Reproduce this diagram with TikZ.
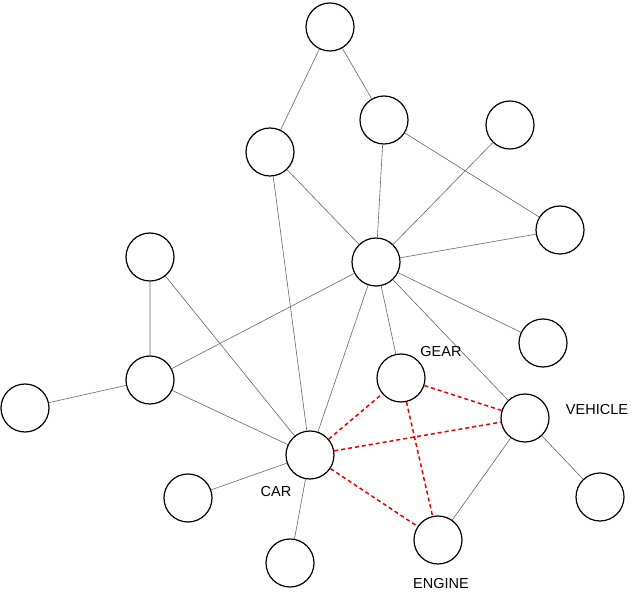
\documentclass[tikz,border=0pt]{standalone}
\usepackage{fontspec}
\setmainfont{Liberation Sans}
\begin{document}
\begin{tikzpicture}[x=1pt,y=-1pt,
  vtx/.style={circle,draw=black,line width=1.2pt,fill=white,minimum size=48pt,inner sep=0pt},
  edge/.style={draw=gray!80!black,line width=0.6pt},
  rel/.style={draw=red!90!black,line width=1.5pt,dash pattern=on 4pt off 3pt},
  lbl/.style={font=\fontsize{14.5pt}{16pt}\selectfont}]
\useasboundingbox (0,0) rectangle (640,593);
\node[vtx] (n1) at (330,27) {};
\node[vtx] (n2) at (384,120) {};
\node[vtx] (n3) at (270,152) {};
\node[vtx] (n4) at (510,125) {};
\node[vtx] (n5) at (560,230) {};
\node[vtx] (hub) at (376,262) {};
\node[vtx] (n7) at (150,257) {};
\node[vtx] (n8) at (150,380) {};
\node[vtx] (n9) at (25,408) {};
\node[vtx] (gear) at (401,378) {};
\node[vtx] (n11) at (543,343) {};
\node[vtx] (vehicle) at (525,418) {};
\node[vtx] (car) at (310,455) {};
\node[vtx] (n14) at (188,498) {};
\node[vtx] (n15) at (600,497) {};
\node[vtx] (n16) at (290,563) {};
\node[vtx] (engine) at (438,540) {};
\path[edge] (n1)--(n3) (n1)--(n2) (n2)--(hub) (n2)--(n5) (n4)--(hub) (n5)--(hub)
 (n3)--(hub) (n3)--(car) (hub)--(n8) (hub)--(car) (hub)--(gear) (hub)--(n11)
 (hub)--(vehicle) (n7)--(n8) (n7)--(car) (n8)--(n9) (n8)--(car) (car)--(n14)
 (car)--(n16) (vehicle)--(engine) (vehicle)--(n15);
\path[rel] (car)--(gear) (car)--(vehicle) (car)--(engine) (gear)--(vehicle) (gear)--(engine);
\node[lbl] (lg) at (441,352) {GEAR};
\node[lbl] (lv) at (597,410) {VEHICLE};
\node[lbl] (lc) at (276,492) {CAR};
\node[lbl] (le) at (441,584) {ENGINE};
\end{tikzpicture}
\end{document}
